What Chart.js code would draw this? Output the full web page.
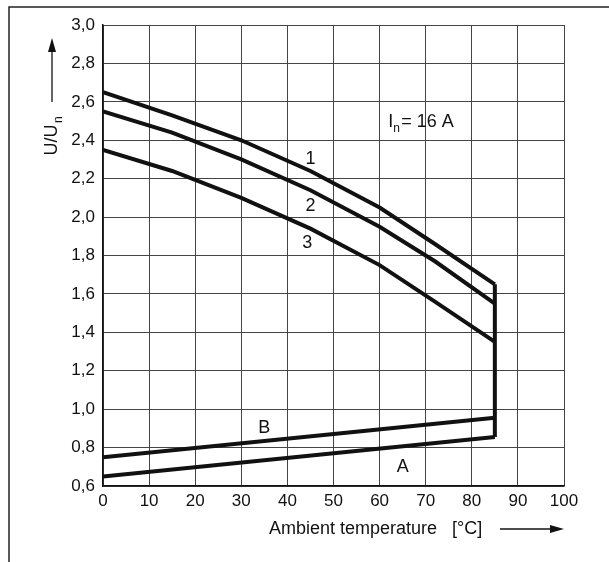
<!doctype html>
<html>
<head>
    <title>U/Un vs ambient temperature</title>
    <script src="https://cdn.jsdelivr.net/npm/chart.js@4/dist/chart.umd.min.js"></script>
    <style>
    body { margin: 0; background: #fff; }
    canvas { display: block; }
    </style>
</head>
<body>
    <canvas id="myChart" width="609" height="562"></canvas>
    <script>
    // curve data
    var temps = [0, 15, 30, 45, 60, 72, 85];
    var curve1 = [2.65, 2.53, 2.40, 2.24, 2.05, 1.86, 1.65];
    var curve2 = [2.55, 2.44, 2.30, 2.14, 1.95, 1.77, 1.55];
    var curve3 = [2.35, 2.24, 2.10, 1.94, 1.75, 1.56, 1.35];
    var lineTemps = [0, 85];
    var lineA = [0.65, 0.855];
    var lineB = [0.75, 0.955];
    var edgeTemps = [85, 85];
    var edge = [1.65, 0.855];

    var xTickLabels = ["0", "10", "20", "30", "40", "50", "60", "70", "80", "90", "100"];
    var yTickLabels = ["0,6", "0,8", "1,0", "1,2", "1,4", "1,6", "1,8", "2,0", "2,2", "2,4", "2,6", "2,8", "3,0"];

    // curve labels: [text, temp, value]
    var curveLabels = [["1", 45, 2.30], ["2", 45, 2.06], ["3", 44.3, 1.865], ["B", 35, 0.90], ["A", 65, 0.70]];

    var FONT = "Liberation Sans, Arial, sans-serif";

    function pts(xs, ys) {
        return xs.map(function (x, i) { return { x: x, y: ys[i] }; });
    }

    function lineSet(data) {
        return {
            data: data,
            showLine: true,
            borderColor: "#111",
            borderWidth: 4,
            pointRadius: 0,
            borderJoinStyle: "miter",
            borderCapStyle: "butt",
            tension: 0
        };
    }

    var decorations = {
        id: "decorations",
        beforeDraw: function (chart) {
            var c = chart.ctx;
            c.save();
            c.fillStyle = "#fff";
            c.fillRect(0, 0, chart.width, chart.height);
            // outer frame (top and left only visible)
            c.strokeStyle = "#222";
            c.lineWidth = 1.5;
            c.beginPath();
            c.moveTo(9, 562);
            c.lineTo(9, 7);
            c.lineTo(609, 7);
            c.stroke();
            c.restore();
        },
        afterDraw: function (chart) {
            var c = chart.ctx;
            var xs = chart.scales.x, ys = chart.scales.y;
            c.save();
            c.fillStyle = "#111";
            c.strokeStyle = "#111";
            c.textBaseline = "middle";
            c.textAlign = "center";
            c.font = "18px " + FONT;
            curveLabels.forEach(function (l) {
                c.fillText(l[0], xs.getPixelForValue(l[1]), ys.getPixelForValue(l[2]));
            });

            // I_n = 16 A
            var ix = xs.getPixelForValue(62.3), iy = ys.getPixelForValue(2.495);
            c.textAlign = "left";
            c.font = "18px " + FONT;
            c.fillText("I", ix - 2, iy);
            c.font = "12px " + FONT;
            c.fillText("n", ix + 3, iy + 7);
            c.font = "18px " + FONT;
            c.fillText("= 16 A", ix + 11, iy);

            // x axis title + arrow
            c.font = "18px " + FONT;
            c.textAlign = "left";
            c.fillText("Ambient temperature   [\u00B0C]", 269, 529);
            c.lineWidth = 1.3;
            c.beginPath();
            c.moveTo(500, 529);
            c.lineTo(556, 529);
            c.stroke();
            c.beginPath();
            c.moveTo(564, 529);
            c.lineTo(550, 525);
            c.lineTo(550, 533);
            c.closePath();
            c.fill();

            // y axis title + arrow
            c.save();
            c.translate(52, 138);
            c.rotate(-Math.PI / 2);
            c.textAlign = "center";
            c.font = "18px " + FONT;
            c.fillText("U/U", -2, 0);
            c.font = "12px " + FONT;
            c.textAlign = "left";
            c.fillText("n", 15, 7);
            c.restore();
            c.beginPath();
            c.moveTo(52, 102);
            c.lineTo(52, 46);
            c.stroke();
            c.beginPath();
            c.moveTo(52, 38);
            c.lineTo(48, 52);
            c.lineTo(56, 52);
            c.closePath();
            c.fill();
            c.restore();
        }
    };

    function drawGraph() {
        var ctx = document.getElementById("myChart").getContext("2d");
        var chart = new Chart(ctx, {
            type: "scatter",
            data: {
                datasets: [
                    lineSet(pts(temps, curve1)),
                    lineSet(pts(temps, curve2)),
                    lineSet(pts(temps, curve3)),
                    lineSet(pts(lineTemps, lineA)),
                    lineSet(pts(lineTemps, lineB)),
                    lineSet(pts(edgeTemps, edge))
                ]
            },
            options: {
                responsive: false,
                animation: false,
                devicePixelRatio: 1,
                layout: { padding: { top: 25, right: 45, bottom: 0, left: 0 } },
                plugins: { legend: { display: false }, tooltip: { enabled: false } },
                scales: {
                    x: {
                        type: "linear",
                        min: 0,
                        max: 100,
                        afterFit: function (s) { s.height = 76; },
                        ticks: {
                            stepSize: 10,
                            padding: 5,
                            color: "#111",
                            font: { family: FONT, size: 17 },
                            maxRotation: 0,
                            callback: function (v, i) { return xTickLabels[i]; }
                        },
                        grid: { color: "#444", lineWidth: 1, drawTicks: false },
                        border: { color: "#111", width: 1.5 }
                    },
                    y: {
                        type: "linear",
                        min: 0.6,
                        max: 3.0,
                        afterFit: function (s) { s.width = 103; },
                        ticks: {
                            stepSize: 0.2,
                            padding: 8,
                            color: "#111",
                            font: { family: FONT, size: 17 },
                            callback: function (v, i) { return yTickLabels[i]; }
                        },
                        grid: { color: "#444", lineWidth: 1, drawTicks: false },
                        border: { color: "#111", width: 1.5 }
                    }
                }
            },
            plugins: [decorations]
        });
    }

    window.onload = function () {
        drawGraph();
    };
    </script>
</body>
</html>
